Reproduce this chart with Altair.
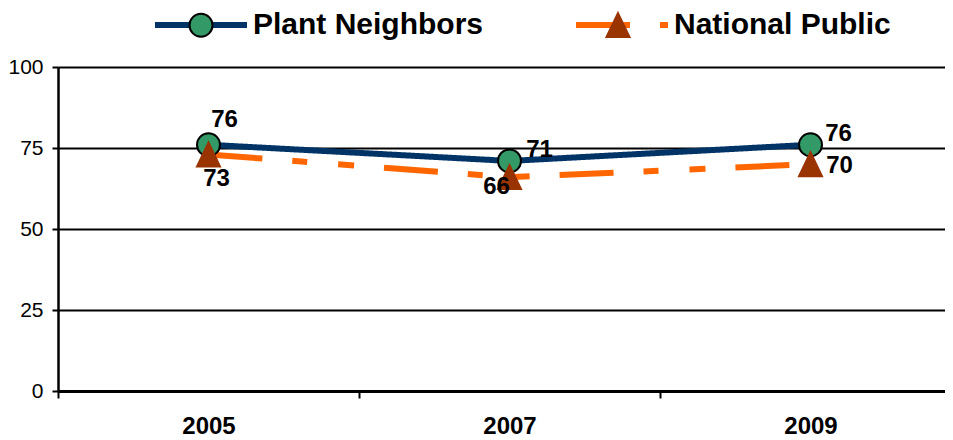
import altair as alt
import pandas as pd

# ---- data ----
years = ["2005", "2007", "2009"]
series_names = ["Plant Neighbors", "National Public"]
plant_neighbors = [76, 71, 76]
national_public = [73, 66, 70]

rows = []
for order, (s, vals) in enumerate(zip(series_names, [plant_neighbors, national_public])):
    for yr, v in zip(years, vals):
        rows.append({"year": yr, "series": s, "order": order, "value": v})
df = pd.DataFrame(rows)

# ---- styles ----
NAVY = "#003366"
ORANGE = "#FF6600"
GREEN = "#339966"
BROWN = "#993300"
FONT = "Liberation Sans"
CIRCLE = "M0.25,0A0.25,0.25,0,1,1,-0.25,0A0.25,0.25,0,1,1,0.25,0Z"
TRI = "M0,-0.26L0.25,0.26L-0.25,0.26Z"
SYM = 8464  # 92px symbol box
DASH = [54, 30, 15, 31, 16, 30]

x = alt.X(
    "year:N",
    scale=alt.Scale(type="band", range=[0, 903], paddingInner=0, paddingOuter=0),
    axis=alt.Axis(
        title=None, labelFont=FONT, labelFontSize=24, labelFontWeight="bold",
        labelColor="black", labelAngle=0, labelPadding=16, tickBand="extent",
        ticks=True, tickSize=7, tickWidth=2, tickColor="black",
        domainColor="black", domainWidth=3, grid=False,
    ),
)
y = alt.Y(
    "value:Q",
    scale=alt.Scale(domain=[0, 100], nice=False),
    axis=alt.Axis(
        title=None, values=[0, 25, 50, 75, 100], labelFont=FONT, labelFontSize=21,
        labelColor="black", labelPadding=9, tickSize=6, tickWidth=2,
        tickColor="black", domainColor="black", domainWidth=2.5,
        grid=True, gridColor="black", gridWidth=2,
    ),
)

# legend for the lines (with visible labels)
leg1 = alt.Legend(
    orient="none", legendX=94, legendY=-91, direction="horizontal", title=None,
    symbolType="stroke", symbolSize=SYM, symbolStrokeWidth=6,
    labelFont=FONT, labelFontSize=30, labelFontWeight="bold", labelColor="black",
    labelOffset=3, labelLimit=600, columnPadding=80,
)
# legend for the markers, overlaid on the line legend (no labels)
leg2 = alt.Legend(
    orient="none", legendX=96, legendY=-89, direction="horizontal", title=None,
    symbolSize=SYM, symbolStrokeWidth=2, symbolOpacity=1,
    labelExpr="''", labelOffset=3, columnPadding=320,
)

series_sort = alt.EncodingSortField(field="order", op="min")

base = alt.Chart(df)

lines = base.mark_line(strokeWidth=6).encode(
    x=x, y=y,
    color=alt.Color("series:N", sort=series_sort,
                    scale=alt.Scale(range=[NAVY, ORANGE]), legend=leg1),
    strokeDash=alt.StrokeDash("series:N", sort=series_sort,
                              scale=alt.Scale(range=[[1, 0], DASH]), legend=leg1),
)

points = base.mark_point(filled=True, size=SYM, strokeWidth=2, opacity=1).encode(
    x=x, y=y,
    shape=alt.Shape("series:N", scale=alt.Scale(domain=series_names, range=[CIRCLE, TRI]), legend=leg2),
    fill=alt.Fill("series:N", scale=alt.Scale(domain=series_names, range=[GREEN, BROWN]), legend=leg2),
    stroke=alt.Stroke("series:N", scale=alt.Scale(domain=series_names, range=["black", BROWN]), legend=leg2),
)

# label placement (style offsets per label)
label_offsets = [
    ("2005", "Plant Neighbors", 16, -25),
    ("2005", "National Public", 8, 25),
    ("2007", "Plant Neighbors", 30, -11),
    ("2007", "National Public", -13, 10),
    ("2009", "Plant Neighbors", 28, -11),
    ("2009", "National Public", 29, 2),
]
texts = []
for yr, s, dx, dy in label_offsets:
    texts.append(
        base.transform_filter((alt.datum.year == yr) & (alt.datum.series == s))
        .mark_text(dx=dx, dy=dy, font=FONT, fontSize=24, fontWeight="bold",
                   color="black", align="center", baseline="middle")
        .encode(x=x, y=y, text="value:Q")
    )

chart = (
    alt.layer(lines, points, *texts)
    .properties(
        width=887, height=324,
        autosize=alt.AutoSizeParams(type="none"),
        padding={"left": 50, "top": 59, "right": 0, "bottom": 50},
    )
    .configure_view(stroke=None)
)

chart.save("out.html", embed_options={"renderer": "svg", "actions": False})
